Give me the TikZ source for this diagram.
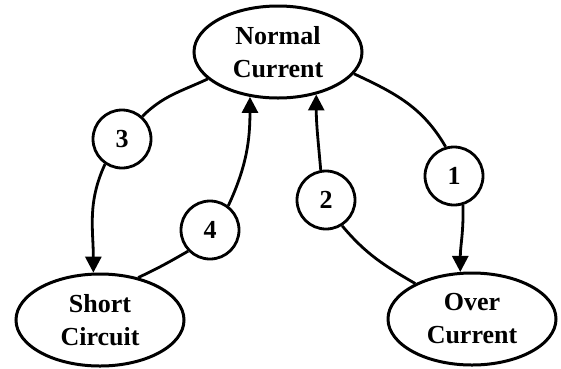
\documentclass[tikz,border=0pt]{standalone}
\usepackage{fontspec}
\setmainfont{Liberation Serif}
\usetikzlibrary{shapes.geometric,arrows.meta}
\begin{document}
\begin{tikzpicture}[x=1pt,y=1pt,
  state/.style={ellipse,draw,line width=3pt,minimum width=168pt,minimum height=92pt,inner sep=0pt,align=center,
    font=\fontsize{26}{33}\selectfont\bfseries},
  num/.style={circle,draw,line width=2.8pt,minimum size=58pt,inner sep=0pt,font=\fontsize{26}{30}\selectfont\bfseries},
  conn/.style={line width=2.8pt},
  arr/.style={line width=2.8pt,-{Triangle[length=16pt,width=16pt]}}]
\useasboundingbox (0,0) rectangle (561,-368);
\node[state] (nc) at (278,-52) {Normal\\Current};
\node[state] (sc) at (100,-320) {Short\\Circuit};
\node[state] (oc) at (472,-319) {Over\\Current};
\node[num] (c3) at (122,-139) {3};
\node[num] (c4) at (210,-230) {4};
\node[num] (c2) at (326,-200) {2};
\node[num] (c1) at (454,-176) {1};
\draw[conn] (nc.201) to[out=205,in=45] (c3.48);
\draw[arr] (c3.236) to[out=245,in=90] (sc.98);
\draw[conn] (sc.48) to[out=25,in=210] (c4.224);
\draw[arr] (c4.53) to[out=65,in=270] (nc.238);
\draw[conn] (oc.148) to[out=150,in=310] (c2.302);
\draw[arr] (c2.100) to[out=95,in=270] (nc.312);
\draw[conn] (nc.344) to[out=-25,in=120] (c1.106);
\draw[arr] (c1.287) to[out=272,in=90] (oc.104);
\end{tikzpicture}
\end{document}
